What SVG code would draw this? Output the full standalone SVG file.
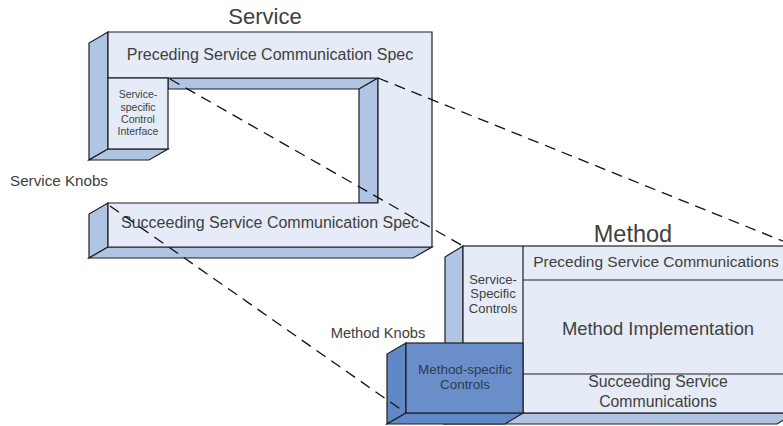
<svg xmlns="http://www.w3.org/2000/svg" width="783" height="426" viewBox="0 0 783 426">
<style>
text{font-family:"Liberation Sans",Arial,sans-serif;fill:#404040;text-anchor:middle}
.face{fill:#e6ecf7;stroke:#1e1e1e;stroke-width:1.2;stroke-linejoin:miter}
.side{fill:#b0c4e4;stroke:#1e1e1e;stroke-width:1.2}
.dfront{fill:#6a8ec9;stroke:#1e1e1e;stroke-width:1.2}
.dside{fill:#6188c6;stroke:#1e1e1e;stroke-width:1.2}
.line{fill:none;stroke:#1e1e1e;stroke-width:1.2}
.dash{fill:none;stroke:#111;stroke-width:1.3;stroke-dasharray:11 7}
</style>
<rect width="783" height="426" fill="#fff"/>
<g id="service">
<text x="265" y="24" font-size="22">Service</text>
<polygon class="side" points="108,32 89,43 89,160 108,149"/>
<polygon class="side" points="108,149 168,149 149,160 89,160"/>
<polygon class="side" points="168,78 378,78 359,89 168,89"/>
<polygon class="side" points="378,78 359,89 359,203 378,203"/>
<polygon class="side" points="108,203 89,214 89,258 108,247"/>
<polygon class="side" points="108,247 432,247 413,258 89,258"/>
<polygon class="face" points="108,32 432,32 432,247 108,247 108,203 378,203 378,78 108,78"/>
<rect class="face" x="108" y="78" width="60" height="71"/>
</g>
<g id="preceding-spec"><text x="270" y="60" font-size="16">Preceding Service Communication Spec</text></g>
<g id="control-interface">
<text x="138" y="98" font-size="10.5">Service-</text>
<text x="138" y="111" font-size="10.5">specific</text>
<text x="138" y="123" font-size="10.5">Control</text>
<text x="138" y="135" font-size="10.5">Interface</text>
</g>
<g id="succeeding-spec"><text x="270" y="228" font-size="16">Succeeding Service Communication Spec</text></g>
<g id="service-knobs"><text x="59" y="186" font-size="15.2">Service Knobs</text></g>
<g id="method">
<text x="633" y="242" font-size="23.5">Method</text>
<polygon class="side" points="463,246 445,257 445,424 463,413"/>
<polygon class="side" points="463,413 795,413 777,424 445,424"/>
<rect class="face" x="463" y="246" width="332" height="167"/>
<line class="line" x1="523" y1="246" x2="523" y2="413"/>
<line class="line" x1="523" y1="280" x2="795" y2="280"/>
<line class="line" x1="523" y1="374" x2="795" y2="374"/>
</g>
<g id="service-specific-controls">
<text x="493" y="284" font-size="13">Service-</text>
<text x="493" y="298" font-size="13">Specific</text>
<text x="493" y="313" font-size="13">Controls</text>
</g>
<g id="preceding-comm"><text x="656" y="267" font-size="15.5">Preceding Service Communications</text></g>
<g id="method-impl"><text x="658" y="335" font-size="18.4">Method Implementation</text></g>
<g id="succeeding-comm">
<text x="658" y="387" font-size="15.8">Succeeding Service</text>
<text x="658" y="407" font-size="15.8">Communications</text>
</g>
<g id="method-knobs"><text x="378" y="338" font-size="14.7">Method Knobs</text></g>
<g id="method-specific-controls">
<polygon class="dside" points="406,343 387,354 387,424 406,413"/>
<polygon class="dside" points="406,413 523,413 505,424 387,424"/>
<rect class="dfront" x="406" y="343" width="117" height="70"/>
<text x="465" y="374" font-size="13.4" style="fill:#2e3b50">Method-specific</text>
<text x="465" y="389" font-size="13.4" style="fill:#2e3b50">Controls</text>
</g>
<g id="connectors">
<line class="dash" x1="170" y1="79" x2="463" y2="246"/>
<line class="dash" x1="378" y1="78" x2="795" y2="246"/>
<line class="dash" x1="110" y1="206" x2="406" y2="413"/>
</g>
</svg>
